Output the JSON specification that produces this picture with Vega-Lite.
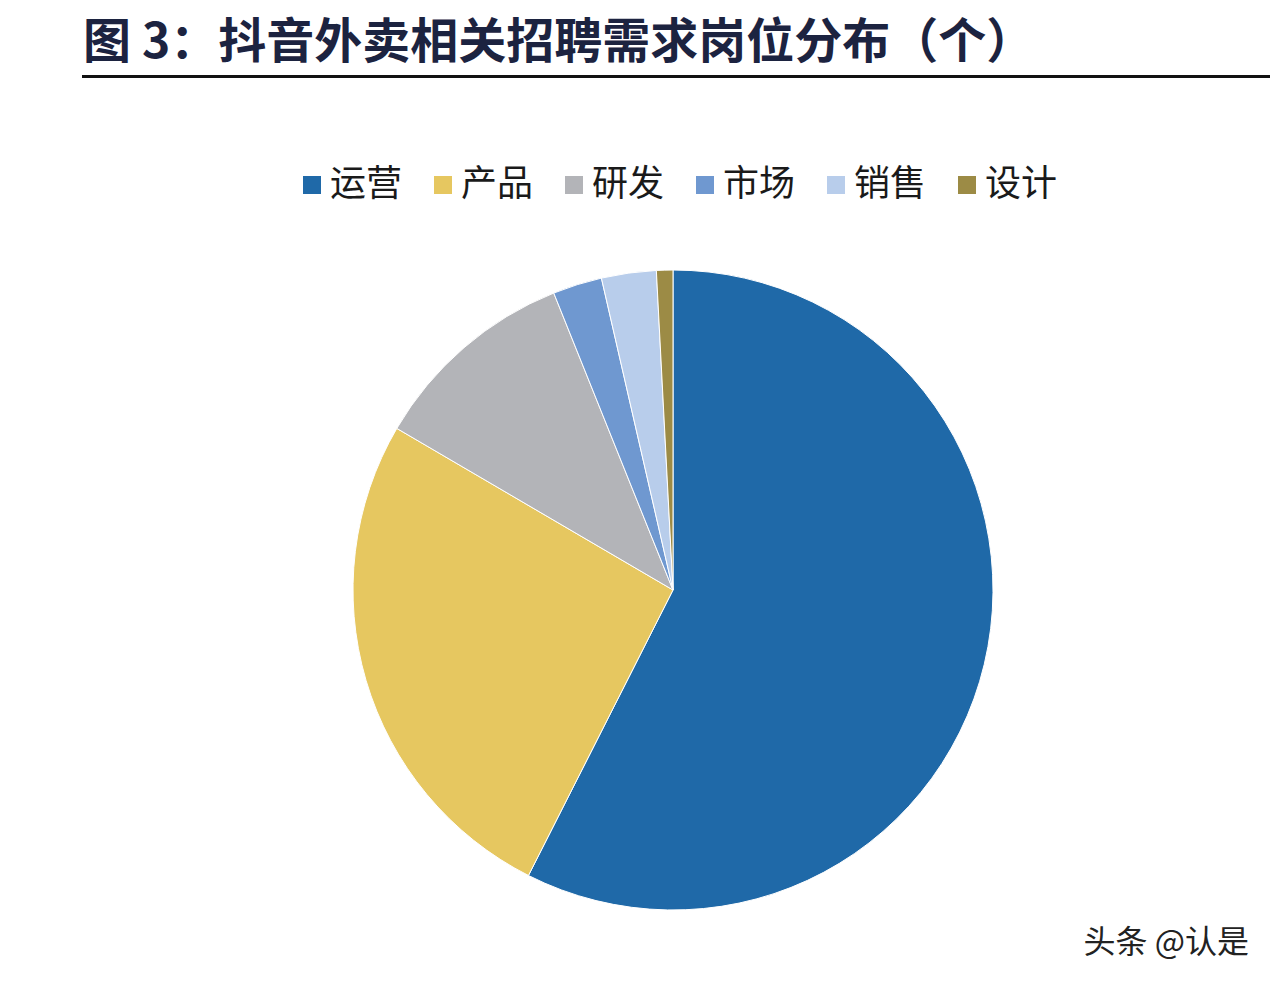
{
  "$schema": "https://vega.github.io/schema/vega-lite/v6.json",
  "background": "#ffffff",
  "padding": {"left": 82, "top": 19, "right": 0, "bottom": 20},
  "spacing": 190,
  "config": {
    "view": {"stroke": null},
    "font": "Noto Sans CJK SC"
  },
  "vconcat": [
    {
      "title": {
        "text": "图 3：抖音外卖相关招聘需求岗位分布（个）",
        "anchor": "start",
        "font": "Noto Sans CJK SC",
        "fontSize": 48,
        "fontWeight": "bold",
        "color": "#1C2340",
        "offset": 8
      },
      "width": 1186,
      "height": 1,
      "view": {"stroke": "#111111", "strokeWidth": 2},
      "data": {"values": []},
      "mark": {"type": "point", "opacity": 0},
      "encoding": {}
    },
    {
      "title": {
        "text": "头条 @认是",
        "orient": "bottom",
        "anchor": "end",
        "font": "Noto Sans CJK SC",
        "fontSize": 32,
        "fontWeight": "normal",
        "color": "#222222",
        "offset": 16,
        "dx": -14
      },
      "width": 1180,
      "height": 640,
      "data": {
        "values": [
          {"岗位": "运营", "数量": 208},
          {"岗位": "产品", "数量": 94},
          {"岗位": "研发", "数量": 38},
          {"岗位": "市场", "数量": 9},
          {"岗位": "销售", "数量": 10},
          {"岗位": "设计", "数量": 3}
        ]
      },
      "mark": {"type": "arc", "outerRadius": 320, "stroke": "#ffffff", "strokeWidth": 1},
      "encoding": {
        "theta": {"field": "数量", "type": "quantitative", "stack": true},
        "order": {"field": "idx", "type": "quantitative"},
        "color": {
          "field": "岗位",
          "type": "nominal",
          "sort": ["运营", "产品", "研发", "市场", "销售", "设计"],
          "scale": {
            "domain": ["运营", "产品", "研发", "市场", "销售", "设计"],
            "range": ["#1F69A8", "#E6C760", "#B3B4B8", "#6F98D0", "#B8CDEB", "#9C8B45"]
          },
          "legend": {
            "title": null,
            "orient": "none",
            "direction": "horizontal",
            "legendX": 211,
            "legendY": 91,
            "symbolType": "square",
            "symbolSize": 324,
            "symbolStrokeWidth": 0,
            "symbolOpacity": 1,
            "labelFont": "Noto Sans CJK SC",
            "labelFontSize": 36,
            "labelColor": "#1a1a1a",
            "labelOffset": 0,
            "labelLimit": 200,
            "columnPadding": 22
          }
        }
      }
    }
  ]
}
